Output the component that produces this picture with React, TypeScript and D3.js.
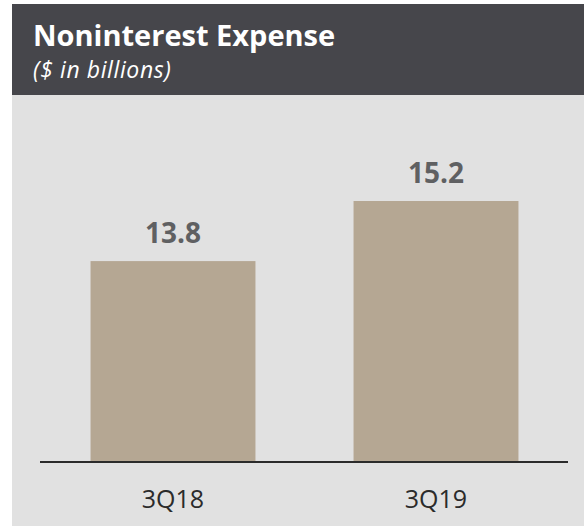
import React from 'react';
import * as d3 from 'd3';

// chart data
const categories = ['3Q18', '3Q19'];
const expense = [13.8, 15.2];
const valueLabels = ['13.8', '15.2'];

const title = 'Noninterest Expense';
const subtitle = '($ in billions)';

const W = 584;
const H = 526;
const FONT = '"Open Sans", "Noto Sans", sans-serif';

export default function App() {
  const baseY = 462;

  // bars don't start at zero in the original, so the domain floor sits above 0
  const yScale = d3.scaleLinear().domain([9.12, 15.2]).range([baseY, 201]);

  const xScale = d3
    .scaleBand<string>()
    .domain(categories)
    .range([41.5, 567.5])
    .paddingInner(0.373)
    .paddingOuter(0.1865);

  return (
    <svg
      width={W}
      height={H}
      style={{ position: 'absolute', left: 0, top: 0, display: 'block' }}
      fontFamily={FONT}
    >
      <rect x={0} y={0} width={W} height={H} fill="#ffffff" />
      {/* panel */}
      <rect x={12} y={95} width={W - 12} height={H - 95} fill="#e1e1e1" />
      {/* header */}
      <rect x={12} y={4} width={W - 12} height={91} fill="#46464b" />
      <text x={33} y={46} fill="#ffffff" fontSize={29} fontWeight={700}>
        {title}
      </text>
      <text x={33} y={78} fill="#ffffff" fontSize={23} fontStyle="italic" letterSpacing={0.6}>
        {subtitle}
      </text>

      {categories.map((c, i) => {
        const x = xScale(c) as number;
        const bw = xScale.bandwidth();
        const top = yScale(expense[i]);
        return (
          <g key={c}>
            <rect x={x} y={top} width={bw} height={baseY - top} fill="#b5a793" />
            <text
              x={x + bw / 2}
              y={top - 18}
              textAnchor="middle"
              fill="#5f6062"
              fontSize={28}
              fontWeight={700}
            >
              {valueLabels[i]}
            </text>
            <text
              x={x + bw / 2}
              y={508}
              textAnchor="middle"
              fill="#2b2b2b"
              fontSize={25}
            >
              {c}
            </text>
          </g>
        );
      })}

      <line x1={40} x2={568} y1={baseY} y2={baseY} stroke="#2b2b2b" strokeWidth={2} />
    </svg>
  );
}
